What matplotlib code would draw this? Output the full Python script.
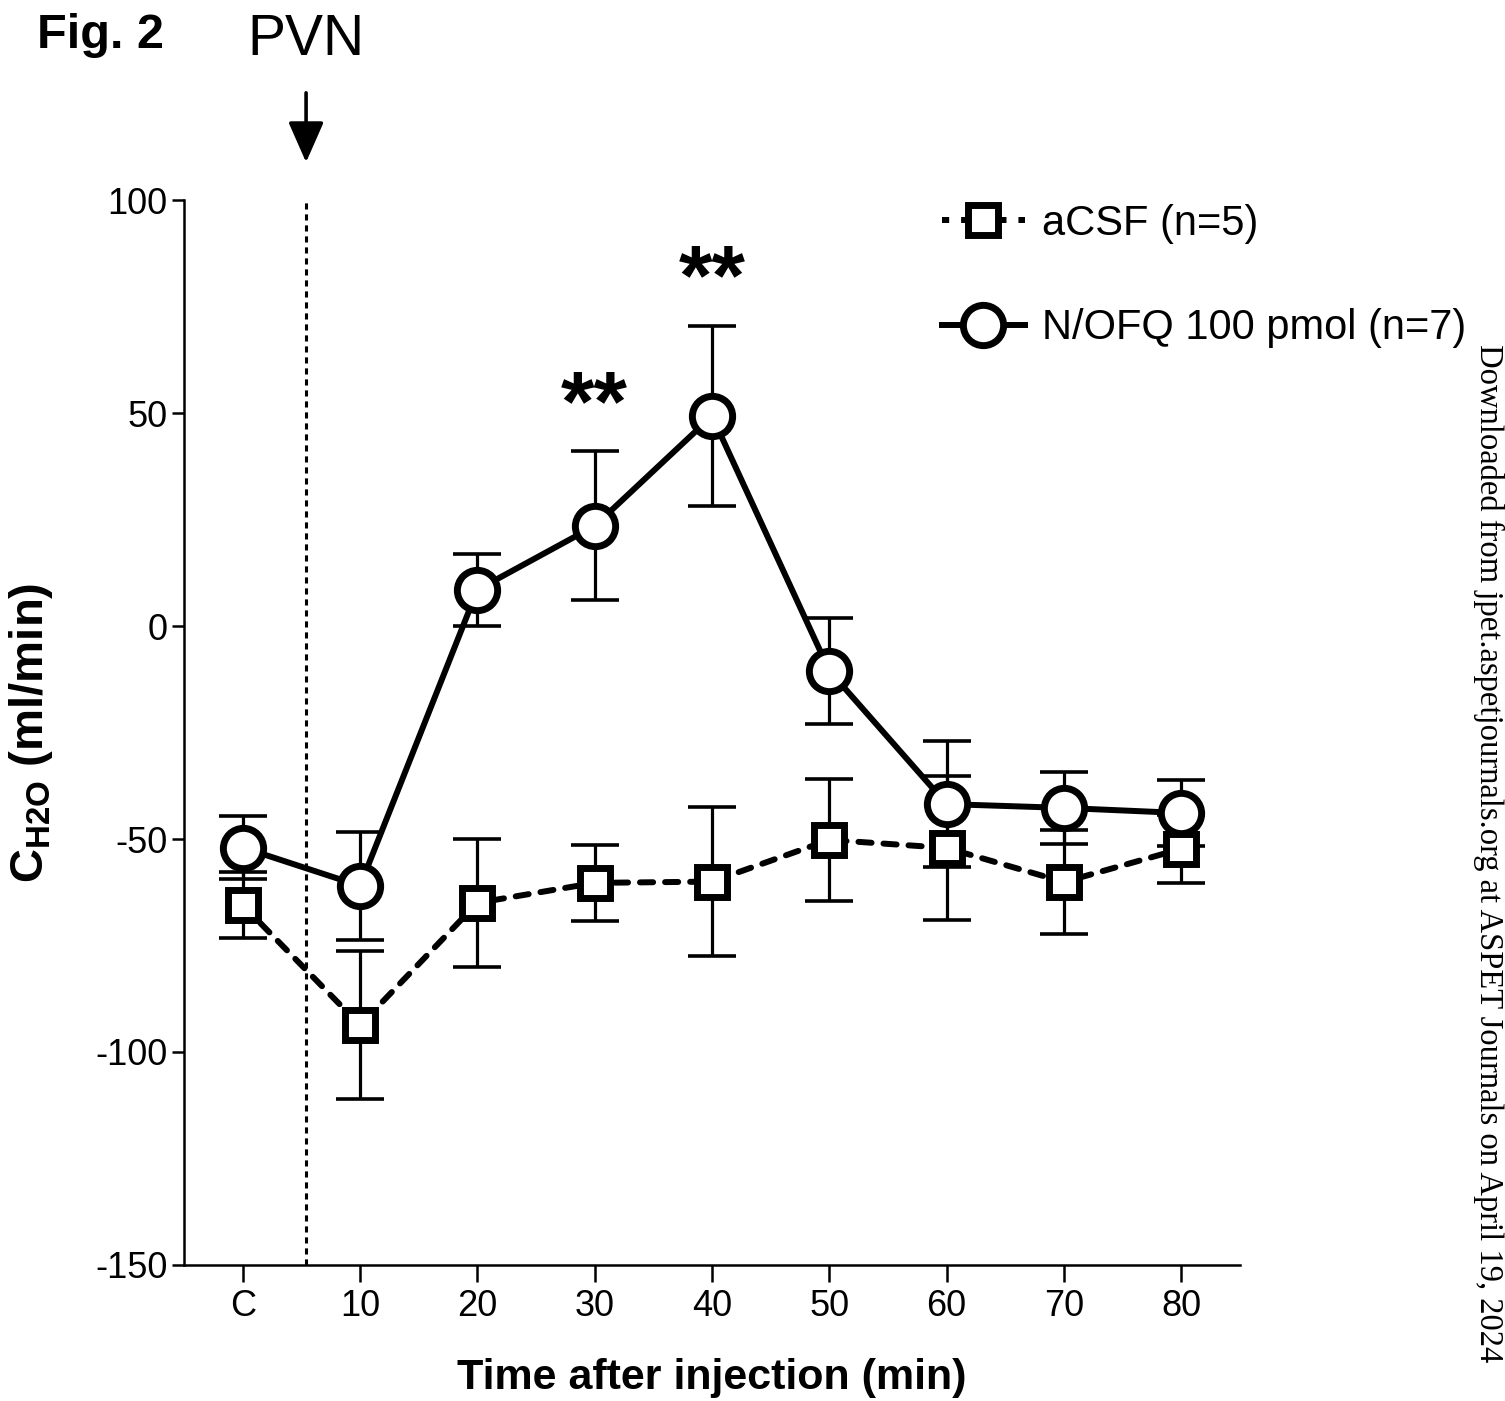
import numpy as np
import matplotlib
matplotlib.use('Agg')
import matplotlib.pyplot as plt
from matplotlib.lines import Line2D

plt.rcParams['font.family'] = ['Liberation Sans', 'DejaVu Sans']
plt.rcParams['mathtext.fontset'] = 'custom'
plt.rcParams['mathtext.rm'] = 'Liberation Sans:bold'
plt.rcParams['mathtext.bf'] = 'Liberation Sans:bold'
plt.rcParams['axes.unicode_minus'] = False

# data
time_labels = ['C', '10', '20', '30', '40', '50', '60', '70', '80']
acsf_mean = [-65.5, -93.7, -65.0, -60.3, -60.0, -50.2, -52.1, -60.1, -52.3]
acsf_sem = [7.8, 17.3, 15.0, 9.0, 17.5, 14.3, 17.0, 12.3, 8.0]
nofq_mean = [-52.0, -61.0, 8.5, 23.5, 49.3, -10.5, -41.8, -42.7, -43.9]
nofq_sem = [7.4, 12.6, 8.5, 17.5, 21.2, 12.5, 14.8, 8.5, 7.8]
signif = {3: '**', 4: '**'}
injection_x = 0.54

x = np.arange(len(time_labels))

fig = plt.figure(figsize=(15.05, 14.01), dpi=100)
ax = fig.add_axes([0.1223, 0.0971, 0.7016, 0.7601])

eb = dict(fmt='none', ecolor='k', elinewidth=2.3, capsize=17, capthick=2.6)
ax.errorbar(x, acsf_mean, yerr=acsf_sem, zorder=2, **eb)
ax.errorbar(x, nofq_mean, yerr=nofq_sem, zorder=2, **eb)

ax.plot(x, acsf_mean, color='k', lw=4.3, ls=(0, (2.2, 2.0)), dash_capstyle='round',
        marker='s', ms=22, mew=5, mfc='white', mec='k', zorder=3)
ax.plot(x, nofq_mean, color='k', lw=4.3, ls='-',
        marker='o', ms=29, mew=5, mfc='white', mec='k', zorder=4)

ax.axvline(injection_x, color='k', lw=2.2, ls=(0, (2, 1.6)), zorder=1)

for i, s in signif.items():
    ax.text(x[i], nofq_mean[i] + nofq_sem[i] + 5, s, ha='center', va='baseline',
            fontsize=62, fontweight='bold')

ax.set_xlim(-0.5, 8.5)
ax.set_ylim(-150, 100)
ax.set_xticks(x)
ax.set_xticklabels(time_labels)
ax.set_yticks([-150, -100, -50, 0, 50, 100])
ax.tick_params(axis='both', labelsize=26, width=1.8, direction='out')
ax.tick_params(axis='x', length=12, pad=5)
ax.tick_params(axis='y', length=9, pad=3)
for side in ['top', 'right']:
    ax.spines[side].set_visible(False)
for side in ['left', 'bottom']:
    ax.spines[side].set_linewidth(1.8)

ax.set_xlabel('Time after injection (min)', fontsize=31, fontweight='bold', labelpad=25)
ax.set_ylabel(r'$\mathbf{C_{H2O}}$ (ml/min)', fontsize=34, fontweight='bold')
ax.yaxis.set_label_coords(-0.122, 0.5)

handles = [
    Line2D([], [], color='k', lw=4.3, ls=(0, (1.2, 2.0)), marker='s', ms=22, mew=5,
           mfc='white', mec='k'),
    Line2D([], [], color='k', lw=4.3, ls='-', marker='o', ms=29, mew=5,
           mfc='white', mec='k'),
]
ax.legend(handles, ['aCSF (n=5)', 'N/OFQ 100 pmol (n=7)'], loc='upper left',
          bbox_to_anchor=(925 / 1505, 1 - 187 / 1401), bbox_transform=fig.transFigure,
          frameon=False, fontsize=30, handlelength=2.0, handletextpad=0.4,
          labelspacing=1.55, borderaxespad=0)

# injection arrow and label
ax.annotate('', xy=(injection_x, 1 + 35 / 1065), xycoords=('data', 'axes fraction'),
            xytext=(injection_x, 1 + 110 / 1065), textcoords=('data', 'axes fraction'),
            arrowprops=dict(arrowstyle='-|>,head_length=0.5,head_width=0.22',
                            mutation_scale=50, lw=2.6, color='k'),
            annotation_clip=False)
ax.annotate('PVN', xy=(injection_x, 1 - 40 / 1401), xycoords=('data', 'figure fraction'),
            ha='center', va='center', fontsize=41, annotation_clip=False)

fig.text(37 / 1505, 1 - 35 / 1401, 'Fig. 2', ha='left', va='center',
         fontsize=35, fontweight='bold')
fig.text(1489 / 1505, 1 - 853 / 1401,
         'Downloaded from jpet.aspetjournals.org at ASPET Journals on April 19, 2024',
         rotation=-90, ha='center', va='center', fontsize=23.5, family='Liberation Serif')

fig.savefig('out.png', dpi=100)
